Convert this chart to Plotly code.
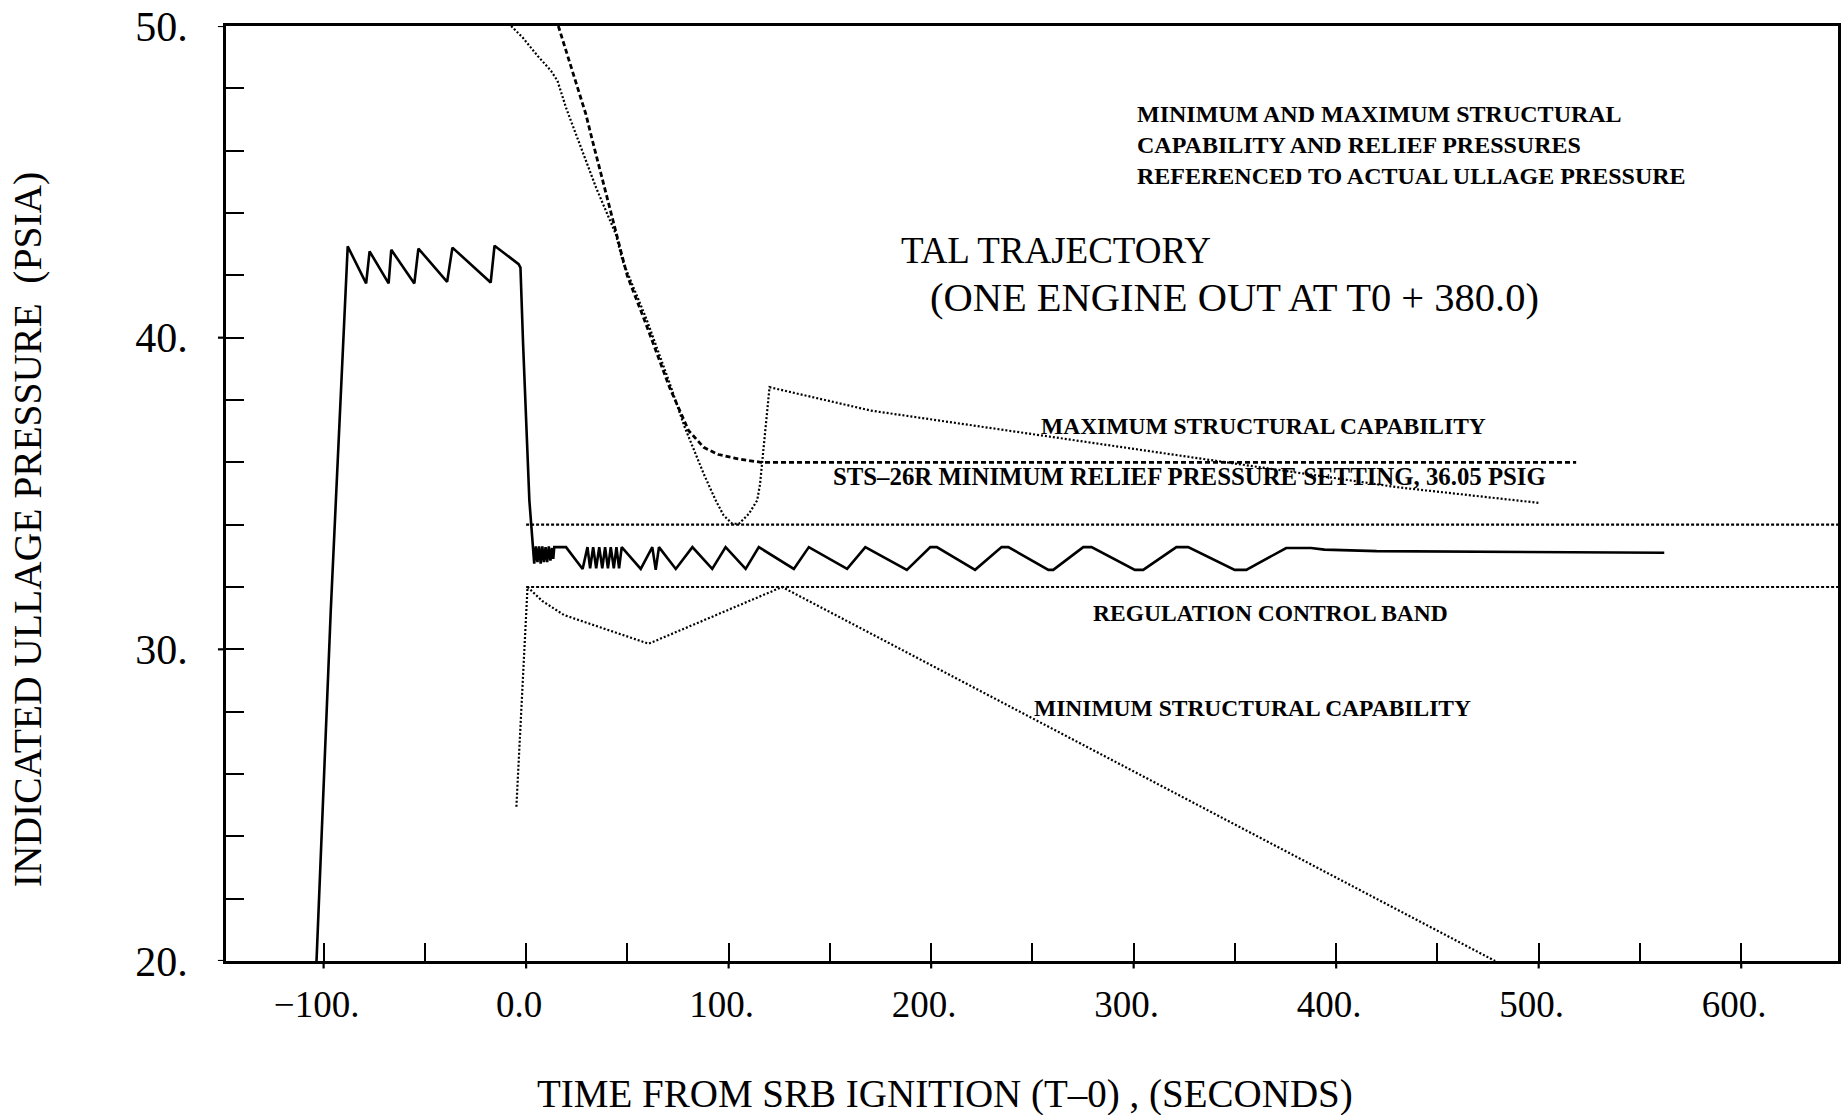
import plotly.graph_objects as go

# ---------------- data ----------------
# Indicated ullage pressure (solid line)
ullage_t = [-103.5, -96.5, -88.1, -79.0, -77.3, -67.9, -66.6, -55.2, -53.2, -39.0, -36.4, -17.5, -15.6,
            -3.7, -2.8, -1.5, 1.6, 3.2,
            4.0, 4.8, 5.6, 6.4, 7.2, 8.0, 8.8, 9.6, 10.4, 11.2, 12.0, 12.8, 13.4, 13.9,
            19.7, 27.9, 30.3, 31.6, 33.1, 34.6, 36.1, 37.6, 39.0, 40.4, 41.8, 43.3, 44.6, 45.9, 47.2,
            56.6, 62.3, 64.0, 65.6, 73.9, 82.1, 91.9, 98.5, 108.4, 114.9, 132.2, 139.6, 158.5, 167.5,
            188.0, 199.6, 202.8, 221.7, 234.8, 238.1, 257.9, 260.3, 275.1, 279.2, 300.6, 304.7,
            321.1, 326.9, 349.9, 355.6, 375.3, 387.6, 394.2, 420.0, 562.0]
ullage_p = [20.0, 31.2, 42.93, 41.74, 42.77, 41.74, 42.82, 41.74, 42.86, 41.79, 42.89, 41.77, 42.95,
            42.36, 42.25, 39.8, 34.78, 33.4,
            32.75, 33.3, 32.8, 33.3, 32.75, 33.3, 32.8, 33.28, 32.8, 33.3, 32.85, 33.25, 32.9, 33.28,
            33.28, 32.58, 33.28, 32.6, 33.28, 32.6, 33.28, 32.6, 33.28, 32.6, 33.28, 32.6, 33.28, 32.6, 33.28,
            32.58, 33.28, 32.55, 33.28, 32.58, 33.28, 32.58, 33.28, 32.58, 33.28, 32.58, 33.28, 32.58, 33.28,
            32.55, 33.28, 33.28, 32.55, 33.28, 33.28, 32.55, 32.55, 33.28, 33.28, 32.55, 32.55,
            33.28, 33.28, 32.55, 32.55, 33.25, 33.25, 33.2, 33.15, 33.1]

# STS-26R minimum relief pressure setting (dashed)
relief_t = [15.9, 21.3, 25.4, 29.5, 32.8, 36.1, 40.2, 44.3, 47.6, 50.0, 59.4, 70.8, 80.2, 87.7,
            95.0, 104.7, 116.0, 518.5]
relief_p = [50.0, 48.88, 48.02, 47.17, 46.31, 45.46, 44.39, 43.43, 42.57, 41.98, 40.4, 38.41, 37.02, 36.48,
            36.25, 36.11, 36.0, 36.0]

# Maximum structural capability (dotted)
maxcap_t = [-7.4, -1.7, 5.7, 12.3, 15.5, 19.7, 24.6, 29.5, 34.5, 39.4, 44.3, 47.6, 59.4, 70.0, 78.3,
            87.7, 93.6, 97.5, 101.8, 105.1, 110.0, 114.1, 115.5, 120.2, 170.2, 249.5, 340.0, 430.4, 500.0]
maxcap_p = [50.0, 49.63, 49.04, 48.56, 48.24, 47.38, 46.53, 45.67, 44.82, 44.07, 43.32, 42.47, 40.6, 38.7, 37.13,
            35.63, 34.78, 34.3, 34.03, 34.03, 34.35, 34.78, 35.3, 38.41, 37.66, 36.91, 36.06, 35.2, 34.70]

# Minimum structural capability (dotted)
mincap_t = [-4.8, 0.0, 0.7, 8.0, 18.7, 60.5, 126.4, 478.5]
mincap_p = [24.95, 31.5, 32.0, 31.55, 31.1, 30.18, 32.0, 20.0]

# Regulation control band
band_t = [0.0, 660.0]
band_upper = [34.0, 34.0]
band_lower = [32.0, 32.0]

# Axes
x_tickvals = [-100, 0, 100, 200, 300, 400, 500, 600]
x_ticktext = ["\u2212100.", "0.0", "100.", "200.", "300.", "400.", "500.", "600."]
y_tickvals = [20, 30, 40, 50]
y_ticktext = ["20.", "30.", "40.", "50."]
x_range = [-148.2, 647.8]
y_range = [20, 50]

SERIF = "Liberation Serif, Times New Roman, serif"

fig = go.Figure()
fig.add_trace(go.Scatter(x=band_t, y=band_upper, mode="lines",
                         line=dict(color="black", width=2.2, dash="3px,2px"), hoverinfo="skip"))
fig.add_trace(go.Scatter(x=band_t, y=band_lower, mode="lines",
                         line=dict(color="black", width=2.2, dash="3px,2px"), hoverinfo="skip"))
fig.add_trace(go.Scatter(x=mincap_t, y=mincap_p, mode="lines",
                         line=dict(color="black", width=2.2, dash="2px,2px")))
fig.add_trace(go.Scatter(x=maxcap_t, y=maxcap_p, mode="lines",
                         line=dict(color="black", width=2.2, dash="2px,2px")))
fig.add_trace(go.Scatter(x=relief_t, y=relief_p, mode="lines",
                         line=dict(color="black", width=2.8, dash="5px,3px")))
fig.add_trace(go.Scatter(x=ullage_t, y=ullage_p, mode="lines",
                         line=dict(color="black", width=2.6)))

axis_common = dict(showgrid=False, zeroline=False, showline=True, linecolor="black", linewidth=2.6,
                   mirror=True, ticks="inside", ticklen=18, tickwidth=2.2, tickcolor="black")

fig.update_xaxes(range=x_range, tickmode="array", tickvals=x_tickvals, ticktext=x_ticktext,
                 minor=dict(dtick=50, ticks="inside", ticklen=18, tickwidth=2.2, tickcolor="black"),
                 tickfont=dict(family=SERIF, size=37, color="black"),
                 ticklabelstandoff=9, ticklabelshift=-7, **axis_common)
fig.update_yaxes(range=y_range, tickmode="array", tickvals=y_tickvals, ticktext=y_ticktext,
                 minor=dict(dtick=2, ticks="inside", ticklen=18, tickwidth=2.2, tickcolor="black"),
                 tickfont=dict(family=SERIF, size=42, color="black"),
                 ticklabelstandoff=27, **axis_common)

# small outside stubs at labelled ticks
shapes = []
for v in x_tickvals:
    shapes.append(dict(type="line", xref="x", yref="paper", x0=v, x1=v, y0=0, y1=-0.008,
                       line=dict(color="black", width=2.2)))
for v in y_tickvals:
    shapes.append(dict(type="line", xref="paper", yref="y", x0=0, x1=-0.005, y0=v, y1=v,
                       line=dict(color="black", width=2.2)))

small = dict(family=SERIF, size=23.5, color="black", weight="bold")
annotations = [
    dict(x=300.8, y=46.17, xref="x", yref="y", xanchor="left", yanchor="middle", align="left",
         text="MINIMUM AND MAXIMUM STRUCTURAL<br>CAPABILITY AND RELIEF PRESSURES<br>REFERENCED TO ACTUAL ULLAGE PRESSURE",
         showarrow=False, font=dict(family=SERIF, size=24, color="black", weight="bold")),
    dict(x=183.9, y=42.8, xref="x", yref="y", xanchor="left", yanchor="middle",
         text="TAL TRAJECTORY", showarrow=False, font=dict(family=SERIF, size=37, color="black")),
    dict(x=198.5, y=41.3, xref="x", yref="y", xanchor="left", yanchor="middle",
         text="(ONE ENGINE OUT AT T0 + 380.0)", showarrow=False,
         font=dict(family=SERIF, size=40.5, color="black")),
    dict(x=363.9, y=37.16, xref="x", yref="y", xanchor="center", yanchor="middle",
         text="MAXIMUM STRUCTURAL CAPABILITY", showarrow=False, font=small),
    dict(x=327.6, y=35.55, xref="x", yref="y", xanchor="center", yanchor="middle",
         text="STS\u201326R MINIMUM RELIEF PRESSURE SETTING, 36.05 PSIG", showarrow=False,
         font=dict(family=SERIF, size=24.8, color="black", weight="bold")),
    dict(x=367.5, y=31.15, xref="x", yref="y", xanchor="center", yanchor="middle",
         text="REGULATION CONTROL BAND", showarrow=False, font=small),
    dict(x=358.6, y=28.13, xref="x", yref="y", xanchor="center", yanchor="middle",
         text="MINIMUM STRUCTURAL CAPABILITY", showarrow=False, font=small),
    dict(x=0.4458, y=-0.1421, xref="paper", yref="paper", xanchor="center", yanchor="middle",
         text="TIME FROM SRB IGNITION (T\u20130) , (SECONDS)", showarrow=False,
         font=dict(family=SERIF, size=39, color="black")),
    dict(x=-0.1224, y=0.4615, xref="paper", yref="paper", xanchor="center", yanchor="middle",
         text="INDICATED ULLAGE PRESSURE\u00a0 (PSIA)", textangle=-90, showarrow=False,
         font=dict(family=SERIF, size=39.5, color="black")),
]

fig.update_layout(width=1845, height=1115, showlegend=False,
                  margin=dict(l=226, r=4, t=25, b=154),
                  paper_bgcolor="white", plot_bgcolor="white",
                  shapes=shapes, annotations=annotations)

fig.write_html("out.html", config={"displayModeBar": False},
               post_script="document.body.style.margin='0';document.body.style.overflow='hidden';")
